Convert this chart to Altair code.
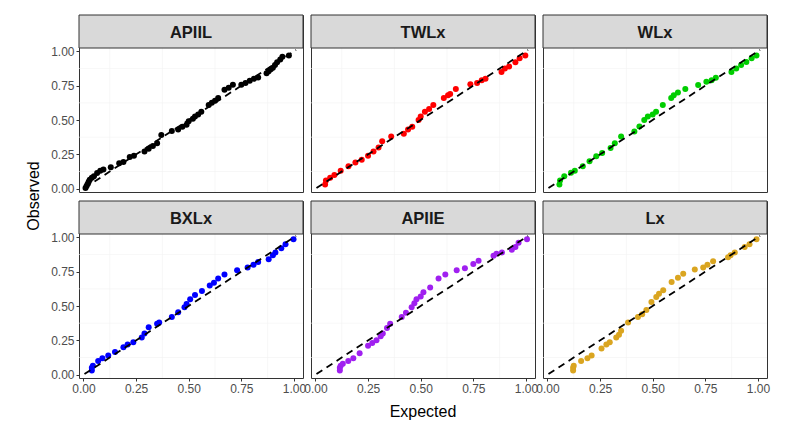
import altair as alt
import pandas as pd

panels = ["APIIL", "TWLx", "WLx", "BXLx", "APIIE", "Lx"]
colors = ["#000000", "#FF0000", "#00CD00", "#0000FF", "#A020F0", "#DAA520"]

apiil_x = [0.01, 0.015, 0.02, 0.025, 0.03, 0.04, 0.05, 0.065, 0.08, 0.095, 0.13, 0.17, 0.19, 0.22, 0.24,
           0.29, 0.31, 0.33, 0.35, 0.37, 0.42, 0.45, 0.47, 0.49, 0.50, 0.52, 0.53, 0.545, 0.56, 0.595,
           0.61, 0.625, 0.64, 0.67, 0.69, 0.71, 0.75, 0.77, 0.79, 0.81, 0.83, 0.87, 0.88, 0.89, 0.90,
           0.91, 0.92, 0.935, 0.945, 0.976]
apiil_y = [0.005, 0.02, 0.035, 0.05, 0.065, 0.08, 0.09, 0.115, 0.13, 0.14, 0.157, 0.185, 0.195, 0.23, 0.24,
           0.27, 0.29, 0.31, 0.33, 0.39, 0.42, 0.43, 0.45, 0.465, 0.49, 0.51, 0.525, 0.54, 0.56, 0.61,
           0.625, 0.64, 0.66, 0.72, 0.735, 0.756, 0.756, 0.77, 0.785, 0.80, 0.81, 0.84, 0.855, 0.87, 0.88,
           0.90, 0.92, 0.94, 0.96, 0.97]

twlx_x = [0.046, 0.05, 0.07, 0.09, 0.12, 0.157, 0.19, 0.22, 0.25, 0.276, 0.30, 0.317, 0.36, 0.42, 0.44,
          0.46, 0.49, 0.50, 0.52, 0.54, 0.56, 0.61, 0.63, 0.64, 0.667, 0.736, 0.768, 0.79, 0.808, 0.884,
          0.90, 0.92, 0.95, 0.97, 0.997]
twlx_y = [0.03, 0.06, 0.08, 0.10, 0.13, 0.164, 0.19, 0.21, 0.24, 0.27, 0.30, 0.345, 0.38, 0.40, 0.43,
          0.45, 0.50, 0.525, 0.56, 0.58, 0.61, 0.66, 0.68, 0.69, 0.725, 0.76, 0.77, 0.79, 0.80, 0.85,
          0.874, 0.89, 0.92, 0.95, 0.97]

wlx_x = [0.057, 0.06, 0.08, 0.112, 0.13, 0.168, 0.20, 0.232, 0.26, 0.30, 0.32, 0.35, 0.413, 0.437, 0.46,
         0.477, 0.50, 0.516, 0.548, 0.588, 0.60, 0.62, 0.655, 0.716, 0.755, 0.78, 0.80, 0.874, 0.897,
         0.92, 0.945, 0.97, 0.993]
wlx_y = [0.03, 0.06, 0.09, 0.116, 0.13, 0.164, 0.20, 0.236, 0.26, 0.296, 0.33, 0.38, 0.417, 0.453, 0.50,
         0.525, 0.54, 0.56, 0.61, 0.66, 0.68, 0.70, 0.725, 0.754, 0.778, 0.79, 0.807, 0.85, 0.874,
         0.90, 0.923, 0.95, 0.97]

bxlx_x = [0.04, 0.04, 0.045, 0.07, 0.09, 0.118, 0.15, 0.19, 0.21, 0.237, 0.277, 0.29, 0.31, 0.35, 0.36,
          0.42, 0.45, 0.48, 0.49, 0.507, 0.53, 0.563, 0.60, 0.62, 0.64, 0.67, 0.73, 0.78, 0.808, 0.83,
          0.88, 0.90, 0.912, 0.94, 0.96, 0.998]
bxlx_y = [0.03, 0.05, 0.065, 0.10, 0.12, 0.14, 0.165, 0.20, 0.22, 0.237, 0.27, 0.30, 0.345, 0.37, 0.38,
          0.42, 0.455, 0.49, 0.515, 0.55, 0.58, 0.61, 0.65, 0.67, 0.70, 0.73, 0.76, 0.78, 0.80, 0.82,
          0.84, 0.87, 0.89, 0.92, 0.95, 0.985]

apiie_x = [0.116, 0.116, 0.12, 0.13, 0.156, 0.18, 0.21, 0.25, 0.27, 0.29, 0.31, 0.32, 0.34, 0.355,
           0.41, 0.43, 0.457, 0.47, 0.48, 0.50, 0.513, 0.545, 0.585, 0.617, 0.671, 0.71, 0.75, 0.775,
           0.846, 0.86, 0.886, 0.933, 0.95, 0.965, 1.005]
apiie_y = [0.03, 0.05, 0.065, 0.08, 0.10, 0.12, 0.157, 0.21, 0.23, 0.25, 0.28, 0.30, 0.34, 0.37,
           0.42, 0.45, 0.49, 0.52, 0.55, 0.57, 0.60, 0.635, 0.70, 0.73, 0.76, 0.775, 0.805, 0.83,
           0.866, 0.88, 0.89, 0.91, 0.93, 0.96, 0.985]

lx_x = [0.122, 0.122, 0.125, 0.16, 0.19, 0.21, 0.257, 0.28, 0.296, 0.327, 0.34, 0.35, 0.383, 0.43,
        0.45, 0.47, 0.494, 0.517, 0.53, 0.55, 0.59, 0.62, 0.645, 0.70, 0.74, 0.76, 0.787, 0.858, 0.87,
        0.89, 0.937, 0.96, 0.993]
lx_y = [0.03, 0.05, 0.065, 0.10, 0.12, 0.14, 0.19, 0.22, 0.237, 0.27, 0.29, 0.32, 0.38, 0.42,
        0.44, 0.47, 0.53, 0.566, 0.59, 0.614, 0.675, 0.705, 0.735, 0.765, 0.78, 0.80, 0.826, 0.855, 0.87,
        0.89, 0.93, 0.95, 0.985]

series = [apiil_x, apiil_y, twlx_x, twlx_y, wlx_x, wlx_y, bxlx_x, bxlx_y, apiie_x, apiie_y, lx_x, lx_y]

rows = []
for i, p in enumerate(panels):
    xs, ys = series[2 * i], series[2 * i + 1]
    for j, (a, b) in enumerate(zip(xs, ys)):
        rows.append({"panel": p, "x": a, "y": b, "first": j == 0})
df = pd.DataFrame(rows)

W = 224
H = 177
S = 33
FONT = "Liberation Sans"
major = [0, 0.25, 0.5, 0.75, 1.0]
minor = [0.125, 0.375, 0.625, 0.875]

xscale = alt.Scale(domain=[-0.021, 1.043], nice=False, zero=False)
yscale = alt.Scale(domain=[-0.024, 1.024], range=[H, S], nice=False, zero=False)


def make_panel(idx):
    p = panels[idx]
    show_x = idx >= 3
    show_y = idx % 3 == 0
    xaxis = alt.Axis(values=major, format=".2f", labelFlush=False, labelOverlap=False,
                     labels=show_x, ticks=show_x)
    yaxis = alt.Axis(values=major, format=".2f", labelFlush=False, labelOverlap=False,
                     labels=show_y, ticks=show_y)

    def X(**kw):
        return alt.X(scale=xscale, axis=xaxis, title=None, **kw)

    def Y(**kw):
        return alt.Y(scale=yscale, axis=yaxis, title=None, **kw)

    base = alt.Chart().transform_filter(alt.datum.panel == p)
    first = base.transform_filter("datum.first")

    layers = []
    for v in minor:
        layers.append(first.mark_rule(color="#f2f2f2", strokeWidth=0.6).encode(
            x=X(datum=v, type="quantitative")))
        layers.append(first.mark_rule(color="#f2f2f2", strokeWidth=0.6).encode(
            y=Y(datum=v, type="quantitative")))

    layers.append(base.mark_circle(size=36, opacity=1, color=colors[idx]).encode(
        x=X(field="x", type="quantitative"),
        y=Y(field="y", type="quantitative"),
    ))

    layers.append(first.mark_rule(color="black", strokeWidth=1.8, strokeDash=[7, 5]).encode(
        x=X(datum=0.005, type="quantitative"),
        y=Y(datum=0.005, type="quantitative"),
        x2=alt.datum(1.01),
        y2=alt.datum(1.01),
    ))

    layers.append(first.mark_rect(fill="#d9d9d9", stroke="#333333", strokeWidth=1).encode(
        x=alt.value(0), x2=alt.value(W), y=alt.value(0), y2=alt.value(S)))

    layers.append(first.mark_text(font=FONT, fontSize=16.5, fontWeight="bold", color="#1a1a1a",
                                  baseline="middle", align="center").encode(
        x=alt.value(W / 2), y=alt.value(S / 2 + 1), text="panel:N"))

    if idx == 3:
        layers.append(first.mark_text(font=FONT, fontSize=16, color="#000000", angle=270,
                                      baseline="middle", align="center").encode(
            x=alt.value(-45), y=alt.value(-5), text=alt.value("Observed")))
    if idx == 4:
        layers.append(first.mark_text(font=FONT, fontSize=16, color="#000000",
                                      baseline="middle", align="center").encode(
            x=alt.value(W / 2), y=alt.value(H + 34), text=alt.value("Expected")))

    return alt.layer(*layers).properties(width=W, height=H)


chart = alt.concat(*[make_panel(i) for i in range(6)], columns=3, data=df,
                   spacing=alt.RowColnumber(row=9, column=8), bounds="flush").properties(
    padding={"left": 17, "top": 6, "right": 5, "bottom": 5}
).configure_axis(
    labelFont=FONT, labelFontSize=12, labelColor="#4d4d4d",
    tickColor="#333333", tickSize=3, tickWidth=1, domain=False,
    gridColor="#ebebeb", gridWidth=1, labelPadding=2,
).configure_view(
    stroke="#333333", strokeWidth=1
)

chart.save("out.html", embed_options={"renderer": "svg", "actions": False})
